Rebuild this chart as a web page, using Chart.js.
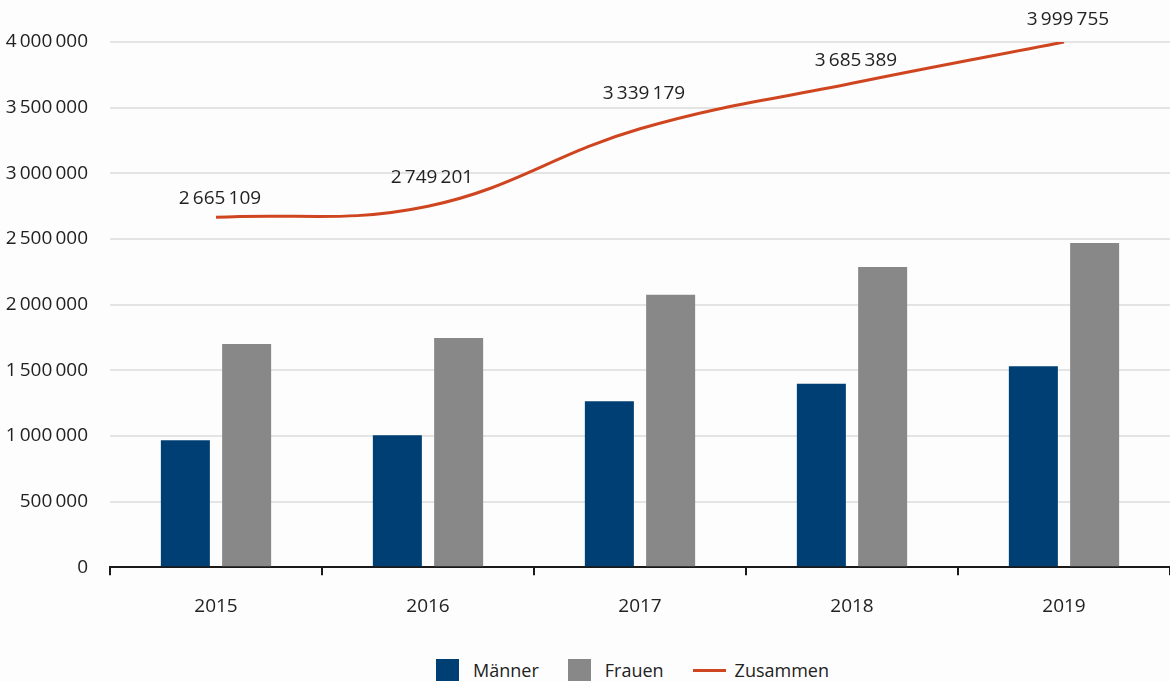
<!DOCTYPE html>
<html lang="de">
<head>
<meta charset="utf-8">
<title>Männer, Frauen, Zusammen 2015–2019</title>
<script src="https://cdn.jsdelivr.net/npm/chart.js@4.4.1/dist/chart.umd.min.js"></script>
<style>
  html, body { margin: 0; padding: 0; background: #fdfdfd; }
  body { width: 1170px; height: 681px; overflow: hidden; position: relative; font-family: "Open Sans", sans-serif; color: #222; }
  #chart { position: absolute; left: 0; top: 0; }
  #legend { position: absolute; left: 436px; top: 659px; height: 22px; display: flex; align-items: center; font-size: 18px; }
  #legend .item { display: flex; align-items: center; margin-right: 29px; }
  #legend .box { width: 23px; height: 22px; margin-right: 14px; }
  #legend .line { width: 33px; height: 3px; margin-right: 9px; }
</style>
</head>
<body>
<canvas id="chart" width="1170" height="640"></canvas>
<div id="legend"></div>
<script>
// data
const years = ['2015', '2016', '2017', '2018', '2019'];
const maenner = [966000, 1004000, 1264000, 1398000, 1531000];
const frauen = [1699000, 1745000, 2075000, 2287000, 2469000];
const zusammen = [2665109, 2749201, 3339179, 3685389, 3999755];
const seriesNames = ['Männer', 'Frauen', 'Zusammen'];

// label lift above each point of the line (px)
const labelLift = [19, 29, 35, 23, 22];

const colMaenner = '#003f73';
const colFrauen = '#888888';
const colZusammen = '#cf4520';

// 2 665 109 style, thin space as thousands separator
function fmt(n) {
  return String(n).replace(/\B(?=(\d{3})+(?!\d))/g, '\u2009');
}

Chart.defaults.font.family = '"Open Sans", sans-serif';
Chart.defaults.font.size = 19;
Chart.defaults.color = '#222';

const pointLabels = {
  id: 'pointLabels',
  afterDatasetsDraw(chart) {
    const meta = chart.getDatasetMeta(0);
    const ctx = chart.ctx;
    ctx.save();
    ctx.font = '19px "Open Sans", sans-serif';
    ctx.fillStyle = '#222';
    ctx.textAlign = 'center';
    ctx.textBaseline = 'middle';
    meta.data.forEach((pt, i) => {
      ctx.fillText(fmt(zusammen[i]), pt.x + 4, pt.y - labelLift[i]);
    });
    ctx.restore();
  }
};

new Chart(document.getElementById('chart'), {
  type: 'bar',
  data: {
    labels: years,
    datasets: [
      {
        type: 'line',
        label: seriesNames[2],
        data: zusammen,
        borderColor: colZusammen,
        backgroundColor: colZusammen,
        borderWidth: 3,
        pointRadius: 0,
        tension: 0.4,
        order: 0
      },
      {
        label: seriesNames[0],
        data: maenner,
        backgroundColor: colMaenner,
        barPercentage: 0.8,
        categoryPercentage: 0.578,
        order: 1
      },
      {
        label: seriesNames[1],
        data: frauen,
        backgroundColor: colFrauen,
        barPercentage: 0.8,
        categoryPercentage: 0.578,
        order: 1
      }
    ]
  },
  options: {
    responsive: false,
    animation: false,
    layout: { padding: { top: 42, right: 0, bottom: 2, left: 0 } },
    plugins: {
      legend: { display: false },
      tooltip: { enabled: false }
    },
    scales: {
      x: {
        offset: true,
        grid: { offset: true, drawOnChartArea: false, tickLength: 8, color: '#1a1a1a', lineWidth: 2 },
        border: { color: '#1a1a1a', width: 2 },
        ticks: { padding: 20 }
      },
      y: {
        min: 0,
        max: 4000000,
        afterFit(scale) { scale.width = 110; },
        grid: { color: '#e4e4e4', lineWidth: 2, drawTicks: false },
        border: { display: false },
        ticks: { stepSize: 500000, padding: 22, callback: v => fmt(v) }
      }
    }
  },
  plugins: [pointLabels]
});

// legend underneath
const legend = document.getElementById('legend');
[[seriesNames[0], colMaenner, 'box'], [seriesNames[1], colFrauen, 'box'], [seriesNames[2], colZusammen, 'line']]
  .forEach(([name, col, kind]) => {
    const item = document.createElement('span');
    item.className = 'item';
    const mark = document.createElement('span');
    mark.className = kind;
    mark.style.background = col;
    item.appendChild(mark);
    item.appendChild(document.createTextNode(name));
    legend.appendChild(item);
  });
</script>
</body>
</html>
